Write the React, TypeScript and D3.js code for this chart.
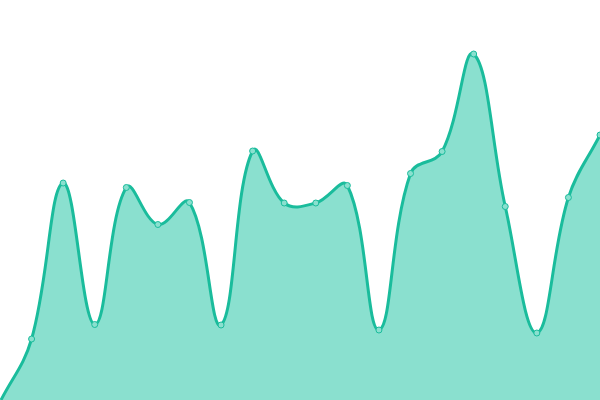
import React from "react";
import * as d3 from "d3";

const W = 600;
const H = 400;

const labels: number[] = [0, 1, 2, 3, 4, 5, 6, 7, 8, 9, 10, 11, 12, 13, 14, 15, 16, 17, 18, 19];
const values: number[] = [-2, 61, 217, 75.5, 212.5, 175.5, 197.5, 75, 249, 197, 197, 214.5, 70, 226.5, 248.5, 346, 193.5, 67, 202.5, 265];

const LINE = "#1abc9c";
const FILL = "#8ae0cf";
const TENSION = 0.4;

type P = { x: number; y: number };

function splinePath(pts: P[]): { line: string; area: string } {
  const cps = pts.map((cur, i) => {
    const prev = pts[i - 1] || cur;
    const next = pts[i + 1] || cur;
    const d01 = Math.hypot(cur.x - prev.x, cur.y - prev.y);
    const d12 = Math.hypot(next.x - cur.x, next.y - cur.y);
    let s01 = d01 / (d01 + d12);
    let s12 = d12 / (d01 + d12);
    if (!isFinite(s01)) s01 = 0;
    if (!isFinite(s12)) s12 = 0;
    const fa = TENSION * s01;
    const fb = TENSION * s12;
    const clamp = (p: P): P => ({
      x: Math.max(0, Math.min(W, p.x)),
      y: Math.max(0, Math.min(H, p.y)),
    });
    return {
      cp1: clamp({ x: cur.x - fa * (next.x - prev.x), y: cur.y - fa * (next.y - prev.y) }),
      cp2: clamp({ x: cur.x + fb * (next.x - prev.x), y: cur.y + fb * (next.y - prev.y) }),
    };
  });
  const p = d3.path();
  p.moveTo(pts[0].x, pts[0].y);
  for (let i = 1; i < pts.length; i++) {
    const a = cps[i - 1].cp2;
    const b = cps[i].cp1;
    p.bezierCurveTo(a.x, a.y, b.x, b.y, pts[i].x, pts[i].y);
  }
  const line = p.toString();
  const area = line + `L${pts[pts.length - 1].x},${H}L${pts[0].x},${H}Z`;
  return { line, area };
}

export default function App() {
  const x = d3.scaleLinear().domain([0, labels.length - 1]).range([0, W]);
  const y = d3.scaleLinear().domain([0, 400]).range([H, 0]);
  const pts = values.map((v, i) => ({ x: x(labels[i]), y: y(v) }));
  const { line, area } = splinePath(pts);
  return (
    <svg
      width={W}
      height={H}
      style={{ position: "fixed", left: 0, top: 0, background: "#fff" }}
    >
      <defs>
        <clipPath id="clip">
          <rect x={0} y={0} width={W} height={H} />
        </clipPath>
      </defs>
      <g clipPath="url(#clip)">
        <path d={area} fill={FILL} stroke="none" />
        <path d={line} fill="none" stroke={LINE} strokeWidth={3} />
        {pts.map((p, i) => (
          <circle key={i} cx={p.x} cy={p.y} r={3} fill={FILL} stroke={LINE} strokeWidth={1} />
        ))}
      </g>
    </svg>
  );
}
